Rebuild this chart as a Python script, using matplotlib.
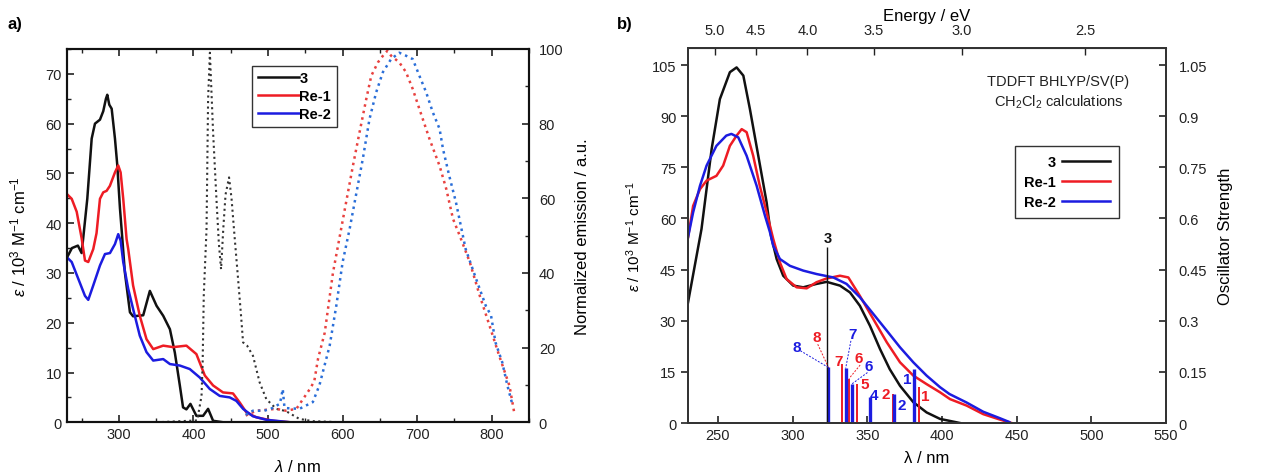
import matplotlib
matplotlib.use("Agg")
import matplotlib.pyplot as plt
import numpy as np
from matplotlib.ticker import MultipleLocator, FixedLocator, FormatStrFormatter

plt.rcParams["font.family"] = ["Liberation Sans", "DejaVu Sans"]
plt.rcParams["mathtext.fontset"] = "custom"
plt.rcParams["mathtext.rm"] = "Liberation Sans"
plt.rcParams["mathtext.it"] = "Liberation Sans:italic"

# ---- panel a) absorption (eps / 1e3 M-1 cm-1) ----
abs3_nm = [230, 237, 245, 250, 252, 257.6, 263.5, 267.9, 274.6, 279, 282.6, 284.4, 287.1, 290.3,
           294.7, 297.8, 301.4, 303.6, 308, 314.8, 319, 332.6, 341.5, 350.5, 359.4, 368.4, 375,
           381.7, 386, 390.5, 395.9, 403.9, 412.9, 419.6, 426.3, 440, 470]
abs3_eps = [33, 35, 35.5, 34, 36.8, 44.9, 57, 60, 60.8, 62.5, 65, 65.8, 63.8, 63,
            57, 51.7, 43, 38.8, 30.1, 22.1, 21.3, 21.5, 26.4, 23.4, 21.4, 18.7, 14,
            7.4, 3.0, 2.6, 3.7, 1.3, 1.3, 2.7, 0.3, 0, 0]
absre1_nm = [230, 236.7, 243.4, 250, 254.5, 258.9, 265.6, 270, 274.6, 279, 283.5, 287.9, 294.7,
             299.1, 302.3, 305.8, 310.3, 312.5, 319, 328, 337, 346, 359.4, 372.7, 390.5, 403.9,
             415.2, 426.3, 439.6, 453, 461.9, 470.9, 484.3, 506.6, 530]
absre1_eps = [45.9, 44.9, 42.3, 37, 32.5, 32.2, 34.8, 38, 44.9, 46.2, 46.5, 47.5, 50.2,
              51.6, 50.2, 44.9, 36.8, 34.8, 27.5, 21.4, 16.7, 14.7, 15.4, 15.1, 15.4, 13.7,
              9.4, 7.4, 6.0, 5.8, 4.0, 2.0, 1.0, 0.3, 0]
absre2_nm = [230, 236.7, 245.6, 254.5, 258.9, 265.6, 274.6, 281.3, 288, 294.7, 299.1, 302.3,
             305.8, 312.5, 319, 328, 337, 346, 359.4, 368.4, 381.7, 395, 408.4, 421.8, 435.2,
             448.6, 457.5, 466.5, 479.8, 497.7, 530]
absre2_eps = [33.2, 32.2, 28.8, 25.4, 24.6, 27.5, 31.5, 33.8, 34.0, 35.8, 37.8, 36.5,
              32.2, 26.8, 22.8, 17.4, 14.1, 12.4, 12.7, 11.7, 11.4, 10.7, 9.0, 6.7, 5.3,
              5.0, 4.3, 2.7, 1.2, 0.5, 0]

# ---- panel a) normalized emission ----
em3_nm = [350, 405, 410.8, 412.3, 413.8, 417.5, 419.6, 422, 426.3, 430.8, 434, 437, 440, 443,
          447.7, 451, 455, 459.8, 464, 466.5, 472, 479.8, 488.7, 497.7, 511, 524, 542, 560, 600]
em3_int = [0, 0.5, 7.1, 16, 34, 51.8, 86.6, 99, 77.7, 59.8, 48, 41, 52, 61,
           65.6, 60, 50, 38.4, 28, 21.4, 20.5, 17.8, 10.7, 6.2, 3.6, 3, 0.9, 0.3, 0]
emre1_nm = [470, 484, 511, 524, 538, 556, 562, 567, 576, 587, 598, 613.8, 622.7, 631.7, 638.4,
            647.3, 656, 660, 665, 676, 685, 694, 703, 716.5, 730, 739, 748, 757, 770.5, 783.9,
            797, 810, 823.7, 830]
emre1_int = [1.8, 3.1, 3.6, 3.1, 3.6, 8.9, 11, 17, 24, 40, 51.8, 68.7, 77.7, 86.6, 92.8,
             96.4, 98.7, 99.5, 98.2, 96.4, 93.8, 89.3, 83.9, 75.9, 68.7, 62.5, 54.5, 50, 42.9, 33.9,
             25.9, 17.8, 9.8, 2.7]
emre2_nm = [470, 479.8, 495, 506, 516, 519.7, 522, 524, 542, 560, 569, 582.6, 591.5, 600, 609.4,
            627, 636, 645, 654, 665, 676, 685, 694, 703, 712, 721, 730, 734.6, 743, 752, 765,
            779, 792, 799, 805, 814, 821, 828]
emre2_int = [2, 3.1, 3.1, 3.8, 5, 8.9, 4, 3.8, 3.6, 5.4, 10, 20.5, 31.2, 42.9, 51.8,
             70.5, 81.2, 88.4, 93.8, 97.3, 99, 98.2, 97.3, 92.8, 88.4, 83, 78.6, 73.2, 66, 58.9, 46.4,
             38.4, 31.2, 28.6, 21.4, 16.1, 9.8, 4.5]

# ---- panel b) calculated spectra ----
calc3_nm = [230, 239, 245.8, 251.3, 258, 262.5, 267, 271.4, 277, 282.6, 285.5, 289.3, 293.7,
            300.4, 307.1, 316, 322.8, 331.7, 338.4, 345, 351.8, 358.5, 365, 371.9, 380.8, 389.7,
            398.7, 407.6, 412]
calc3_eps = [35.4, 56.9, 80.4, 95, 102.9, 104.3, 101.9, 92.1, 78.4, 64.7, 55, 48.1, 43.2,
             40.3, 39.8, 40.8, 41.4, 40.3, 38.3, 34.4, 28.5, 21.7, 15.8, 10.9, 6.1, 3.1,
             1.2, 0.4, 0]
calcre1_nm = [230, 233.4, 238, 242.4, 249, 253.5, 258, 262.5, 265.9, 269.2, 273.6, 278, 282.6,
              287, 291.5, 296, 302.7, 309.4, 316, 322.8, 331.7, 337.3, 345, 354, 363, 371.9,
              380.8, 389.7, 398.7, 405.4, 416.5, 427.6, 438.8, 446.6]
calcre1_eps = [54.5, 63.7, 68.6, 71.1, 72.5, 75.5, 81.3, 84.3, 86.2, 85.3, 78.4, 69.6, 61.8,
               54, 47.1, 42.2, 39.8, 39.5, 41.3, 42.4, 43.2, 42.7, 37.3, 30.5, 23.7, 17.8,
               13.9, 11.4, 9, 7.0, 5.1, 2.6, 1.0, 0]
calcre2_nm = [230, 233.4, 238, 242.4, 249, 255.6, 259, 263.6, 269.2, 275.9, 281.5, 284.8, 287,
              291.5, 298.2, 307.1, 316, 327.2, 336.1, 345, 354, 363, 371.9, 380.8, 389.7, 398.7,
              405, 416.5, 427.6, 438.8, 445]
calcre2_eps = [54.5, 61.8, 69.6, 75.5, 81.3, 84.3, 84.8, 83.8, 78.4, 69.6, 60.8, 56, 52,
               48.1, 46.1, 44.7, 43.7, 42.7, 40.8, 36.9, 32, 27.1, 22.2, 17.8, 13.9, 10.5,
               8.5, 6, 3.3, 1.4, 0.3]

# oscillator strengths (stick spectra)
osc3_nm, osc3_f = [323.3], [0.516]
oscre1_nm = [323.8, 333.3, 337.7, 343.3, 367.5, 384.6]
oscre1_f = [0.165, 0.173, 0.13, 0.114, 0.085, 0.105]
oscre1_lab = ["8", "7", "6", "5", "2", "1"]
oscre2_nm = [323.9, 335.5, 339.5, 351.8, 367.9, 381.3]
oscre2_f = [0.163, 0.16, 0.114, 0.075, 0.085, 0.158]
oscre2_lab = ["8", "7", "6", "4", "2", "1"]

# label anchor points (nm, f) and whether a leader line is drawn
re1_lab_pos = [(316, 0.251), (330.6, 0.183), (344.4, 0.19), (348.4, 0.114), (362.5, 0.085), (388.6, 0.08)]
re1_leader = [True, False, True, False, False, False]
re2_lab_pos = [(302.7, 0.222), (340, 0.261), (351.1, 0.168), (354.5, 0.082), (373, 0.053), (377, 0.129)]
re2_leader = [True, True, True, False, False, False]

energy_ticks = [5.0, 4.5, 4.0, 3.5, 3.0, 2.5]

C_BLACK = "#111111"
C_RED = "#ee1c24"
C_BLUE = "#1c1ce0"
C_RED_EM = "#e8413f"
C_BLUE_EM = "#2a6ed8"
C_GRAY_EM = "#333333"

fig = plt.figure(figsize=(12.73, 4.77), dpi=100)

# ================= panel a =================
ax1 = fig.add_axes([0.0524, 0.1126, 0.3632, 0.7826])
ax1b = ax1.twinx()

ax1b.plot(em3_nm, em3_int, ":", color=C_GRAY_EM, lw=1.5)
ax1b.plot(emre1_nm, emre1_int, ":", color=C_RED_EM, lw=1.8)
ax1b.plot(emre2_nm, emre2_int, ":", color=C_BLUE_EM, lw=1.8)

ax1.plot(abs3_nm, abs3_eps, color=C_BLACK, lw=1.8, label="3")
ax1.plot(absre1_nm, absre1_eps, color=C_RED, lw=1.8, label="Re-1")
ax1.plot(absre2_nm, absre2_eps, color=C_BLUE, lw=1.8, label="Re-2")

ax1.set_xlim(230, 850)
ax1.set_ylim(0, 75)
ax1b.set_ylim(0, 100)
ax1.xaxis.set_major_locator(MultipleLocator(100))
ax1.xaxis.set_minor_locator(MultipleLocator(50))
ax1.yaxis.set_major_locator(MultipleLocator(10))
ax1.yaxis.set_minor_locator(MultipleLocator(5))
ax1b.yaxis.set_major_locator(MultipleLocator(20))
ax1b.yaxis.set_minor_locator(MultipleLocator(10))
ax1.tick_params(which="both", direction="in", top=True, labelsize=10.5, colors="#222222")
ax1.tick_params(which="major", length=5, width=1.2)
ax1.tick_params(which="minor", length=3, width=1)
ax1b.tick_params(which="both", direction="in", labelsize=10.5, colors="#222222", pad=7)
ax1b.tick_params(which="major", length=5, width=1.2)
ax1b.tick_params(which="minor", length=3, width=1)
for ax in (ax1, ax1b):
    for sp in ax.spines.values():
        sp.set_linewidth(1.5)
        sp.set_color("#111111")

ax1.set_xlabel(r"$\lambda$ / nm", fontsize=12, labelpad=12)
ax1.set_ylabel(r"$\varepsilon$ / 10$^{3}$ M$^{-1}$ cm$^{-1}$", fontsize=12, labelpad=12)
ax1b.set_ylabel("Normalized emission / a.u.", fontsize=12, labelpad=8)

leg1 = ax1.legend(loc="upper left", bbox_to_anchor=(0.385, 0.975), fontsize=10.5,
                  handlelength=2.8, handletextpad=0.05, borderpad=0.4, labelspacing=0.25,
                  fancybox=False, framealpha=1, edgecolor="#333333")
for t in leg1.get_texts():
    t.set_fontweight("bold")

fig.text(0.006, 0.965, "a)", fontsize=12, fontweight="bold", va="top")

# ================= panel b =================
ax2 = fig.add_axes([0.5405, 0.1111, 0.3755, 0.7862])
ax2b = ax2.twinx()

ax2.plot(calc3_nm, calc3_eps, color=C_BLACK, lw=1.8, label="3")
ax2.plot(calcre1_nm, calcre1_eps, color=C_RED, lw=1.8, label="Re-1")
ax2.plot(calcre2_nm, calcre2_eps, color=C_BLUE, lw=1.8, label="Re-2")

ax2b.vlines(oscre1_nm, 0, oscre1_f, color=C_RED, lw=1.4)
ax2b.vlines(oscre2_nm, 0, oscre2_f, color=C_BLUE, lw=2.4)
ax2b.vlines(osc3_nm, 0, osc3_f, color=C_BLACK, lw=1.0)
ax2b.text(osc3_nm[0], osc3_f[0] + 0.005, "3", ha="center", va="bottom",
          fontsize=10.5, fontweight="bold", color=C_BLACK)

for lab, (x, y), lead, sx, sf in zip(oscre1_lab, re1_lab_pos, re1_leader, oscre1_nm, oscre1_f):
    ax2b.text(x, y, lab, color=C_RED, fontsize=11, fontweight="bold", ha="center", va="center")
    if lead:
        ax2b.plot([x + 0.8, sx], [y - 0.02, sf], ls=(0, (2, 1.5)), color=C_RED, lw=0.7)
for lab, (x, y), lead, sx, sf in zip(oscre2_lab, re2_lab_pos, re2_leader, oscre2_nm, oscre2_f):
    ax2b.text(x, y, lab, color=C_BLUE, fontsize=11, fontweight="bold", ha="center", va="center")
    if lead:
        ax2b.plot([x + 2.5 if x < sx - 5 else x - 1.0, sx], [y - 0.01 if x < sx - 5 else y - 0.02, sf],
                  ls=(0, (2, 1.5)), color=C_BLUE, lw=0.7)

ax2.set_xlim(230, 550)
ax2.set_ylim(0, 110)
ax2b.set_ylim(0, 1.1)
ax2.xaxis.set_major_locator(MultipleLocator(50))
ax2.yaxis.set_major_locator(MultipleLocator(15))
ax2b.yaxis.set_major_locator(MultipleLocator(0.15))
ax2b.yaxis.set_major_formatter(plt.FuncFormatter(lambda v, p: "0" if abs(v) < 1e-9 else f"{v:.2f}".rstrip("0")))
ax2.tick_params(axis="x", direction="in", length=5, width=1.2, labelsize=10.5, colors="#222222")
ax2.tick_params(axis="y", direction="out", length=5, width=1.2, labelsize=10.5, colors="#222222")
ax2b.tick_params(axis="y", direction="in", length=5, width=1.2, labelsize=10.5, colors="#222222", pad=9)
for ax in (ax2, ax2b):
    for sp in ax.spines.values():
        sp.set_linewidth(1.3)
        sp.set_color("#333333")


def nm_to_ev(x):
    x = np.asarray(x, dtype=float)
    with np.errstate(divide="ignore", invalid="ignore"):
        return 1239.84 / x


secax = ax2.secondary_xaxis("top", functions=(nm_to_ev, nm_to_ev))
secax.xaxis.set_major_locator(FixedLocator(energy_ticks))
secax.xaxis.set_major_formatter(FormatStrFormatter("%.1f"))
secax.tick_params(direction="in", length=5, width=1.0, labelsize=10.5, colors="#222222", pad=8)
secax.set_xlabel("Energy / eV", fontsize=12, labelpad=2)

ax2.set_xlabel("\u03bb / nm", fontsize=12, labelpad=6)
ax2.set_ylabel(r"$\varepsilon$ / 10$^{3}$ M$^{-1}$ cm$^{-1}$", fontsize=11, labelpad=6)
ax2b.set_ylabel("Oscillator Strength", fontsize=12, labelpad=8)

ax2.text(0.775, 0.93, "TDDFT BHLYP/SV(P)\nCH$_2$Cl$_2$ calculations", transform=ax2.transAxes,
         ha="center", va="top", fontsize=10.5, color="#222222", linespacing=1.3)

leg2 = ax2.legend(loc="upper right", bbox_to_anchor=(0.916, 0.757), fontsize=10.5,
                  markerfirst=False, handlelength=3.3, handletextpad=0.4, borderpad=0.6,
                  labelspacing=0.4, fancybox=False, framealpha=1, edgecolor="#333333")
for t in leg2.get_texts():
    t.set_fontweight("bold")
    t.set_ha("right")
leg2._legend_box.align = "right"

fig.text(0.485, 0.965, "b)", fontsize=12, fontweight="bold", va="top")

fig.savefig("out.png", dpi=100)
